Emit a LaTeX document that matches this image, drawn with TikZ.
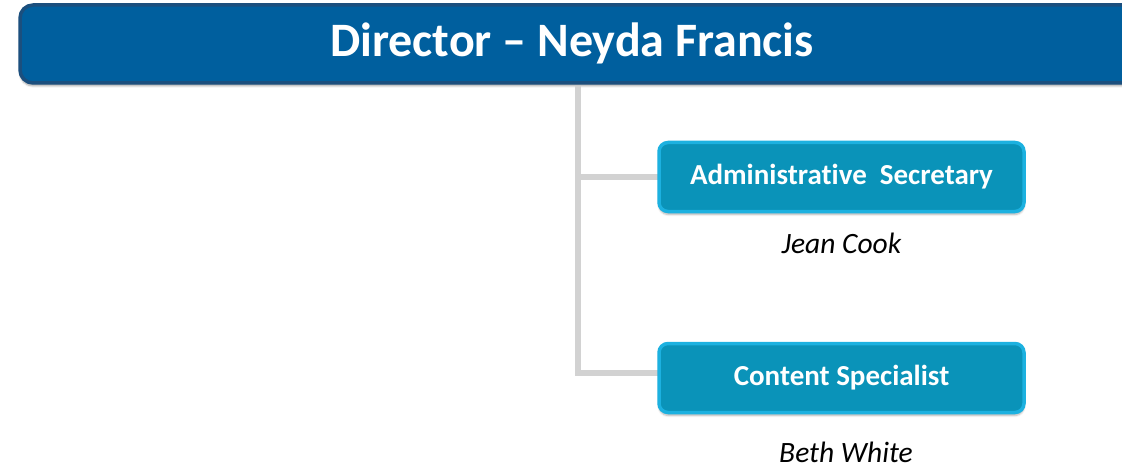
\documentclass[tikz,border=0pt]{standalone}
\usepackage{fontspec}
\setmainfont[Ligatures=NoCommon]{Carlito}
\usetikzlibrary{shadows.blur}
\definecolor{bannerfill}{HTML}{005F9E}
\definecolor{bannerdraw}{HTML}{1B4F7E}
\definecolor{boxfill}{HTML}{0A93B9}
\definecolor{boxdraw}{HTML}{1CB1E0}
\definecolor{linkgray}{HTML}{D2D2D2}
\tikzset{
  x=1pt,y=-1pt,
  banner/.style={draw=bannerdraw,line width=3.5pt,fill=bannerfill,rounded corners=13pt,
    blur shadow={shadow xshift=0pt,shadow yshift=-3pt,shadow blur steps=6,shadow opacity=35}},
  rolebox/.style={draw=boxdraw,line width=3.5pt,fill=boxfill,rounded corners=9pt,
    minimum width=365pt,minimum height=69pt,inner sep=0pt,
    text=white,font=\bfseries\fontsize{29}{34}\selectfont,
    blur shadow={shadow xshift=0pt,shadow yshift=-3pt,shadow blur steps=6,shadow opacity=30}},
  person/.style={font=\itshape\fontsize{29.5}{34}\selectfont,text=black,inner sep=0pt},
  link/.style={draw=linkgray,line width=6pt},
}
\begin{document}
\begin{tikzpicture}
\useasboundingbox (0,0) rectangle (1122,468);
\begin{scope}
\clip (0,-10) rectangle (1122,468);
\draw[banner] (20,5) rectangle (1150,83);
\end{scope}
\node[text=white,font=\bfseries\fontsize{48}{56}\selectfont,inner sep=0pt] (dir) at (572,43) {Director – Neyda Francis};
\coordinate (top) at (578,86);
\coordinate (j1) at (578,177);
\coordinate (j2) at (578,373);
\draw[link] (top) -- (j2) -- (660,373);
\draw[link] (j1) -- (660,177);
\node[rolebox] (sec) at (841.5,177) {Administrative\ \ Secretary};
\node[rolebox] (spec) at (841.5,378) {Content Specialist};
\node[person] (jean) at (841.5,243) {Jean Cook};
\node[person] (beth) at (846,452) {Beth White};
\end{tikzpicture}
\end{document}
